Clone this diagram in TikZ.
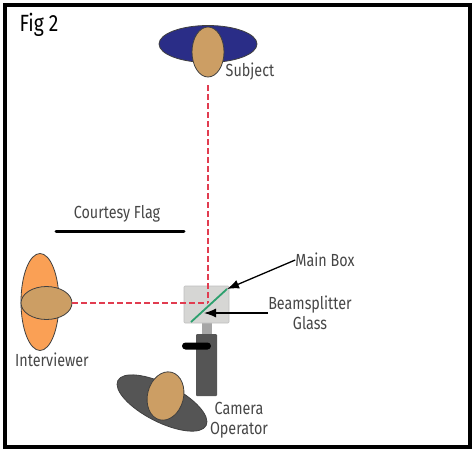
\documentclass[tikz,border=0pt]{standalone}
\usepackage{fontspec}
\setmainfont{Fira Sans}[FakeStretch=0.82]
\usepackage{tikz}
\usetikzlibrary{arrows.meta, shapes.geometric, calc}

\definecolor{skin}{RGB}{204,158,100}
\definecolor{navybody}{RGB}{42,45,135}
\definecolor{orangebody}{RGB}{250,160,85}
\definecolor{greybody}{RGB}{85,85,85}
\definecolor{labelgrey}{RGB}{70,70,70}
\definecolor{raycolor}{RGB}{225,60,80}
\definecolor{glasscolor}{RGB}{45,160,110}
\definecolor{boxcolor}{RGB}{214,214,212}

\tikzset{
  person/.style={ellipse, draw=black!75, line width=0.8pt, inner sep=0pt},
  lbl/.style={font=\fontsize{17.5}{20}\selectfont, text=labelgrey, align=center, inner sep=0pt},
  ray/.style={raycolor, line width=1.5pt, dash pattern=on 6pt off 3pt},
  pointer/.style={-{Latex[length=12pt,width=9pt]}, line width=1.3pt, black},
}

\begin{document}
\begin{tikzpicture}[x=1pt, y=-1pt]
  \useasboundingbox (0,0) rectangle (476,453);
  \draw[line width=4pt] (5,5) rectangle (470,447);
  \node[font=\fontsize{23.5}{24}\selectfont, inner sep=0pt] (figlabel) at (39,25) {Fig 2};

  % subject
  \node[person, fill=navybody, minimum width=98pt, minimum height=37pt] (subjectbody) at (208,44) {};
  \node[person, fill=skin, minimum width=32pt, minimum height=50pt] (subjecthead) at (208,52) {};
  \node[lbl] (subject) at (250,72) {Subject};

  % flag
  \coordinate (flagleft) at (56,231);
  \coordinate (flagright) at (184,231);
  \draw[line width=3pt, line cap=round] (flagleft) -- (flagright);
  \node[lbl] (flag) at (117,214) {Courtesy Flag};

  % interviewer
  \node[person, fill=orangebody, minimum width=38pt, minimum height=97pt] (interviewerbody) at (40,302) {};
  \node[person, fill=skin, minimum width=51pt, minimum height=33pt] (interviewerhead) at (46.5,303) {};
  \node[lbl] (interviewer) at (52,360) {Interviewer};

  % camera
  \node[fill=black!35, minimum width=10pt, minimum height=13pt, inner sep=0pt] (neck) at (207,329) {};
  \node[fill=greybody, rounded corners=1pt, minimum width=21pt, minimum height=62pt, inner sep=0pt] (camera) at (206.5,365) {};
  \node[fill=black, rounded corners=3.5pt, minimum width=29pt, minimum height=7pt, inner sep=0pt] (handle) at (196.5,346) {};
  \node[fill=boxcolor, draw=black!25, line width=0.6pt, rounded corners=1pt, minimum width=45pt, minimum height=37pt, inner sep=0pt] (mainbox) at (206.5,304.5) {};
  \coordinate (glassbottom) at (191,322);
  \coordinate (glasstop) at (227,289);
  \coordinate (split) at (208,303);
  \coordinate (glasshit) at (204,313);

  % rays
  \coordinate (raytop) at (208,85);
  \draw[ray] (raytop) -- (split);
  \draw[ray] (interviewerhead.east) -- (split);
  \draw[glasscolor, line width=1.8pt] (glassbottom) -- (glasstop);

  % operator
  \node[person, fill=greybody, minimum width=99pt, minimum height=38pt, rotate=-27] (operatorbody) at (162,403) {};
  \node[person, fill=skin, minimum width=36pt, minimum height=49pt, rotate=-14] (operatorhead) at (165.5,396) {};
  \node[lbl] (operator) at (239,420) {Camera\\[0.5pt]Operator};

  % labels with arrows
  \node[lbl] (mainlabel) at (325,260) {Main Box};
  \node[lbl] (splitlabel) at (310,313) {Beamsplitter\\[0.5pt]Glass};
  \draw[pointer] (mainlabel.west) -- (glasstop);
  \draw[pointer] (splitlabel.west) -- (glasshit);
\end{tikzpicture}
\end{document}
